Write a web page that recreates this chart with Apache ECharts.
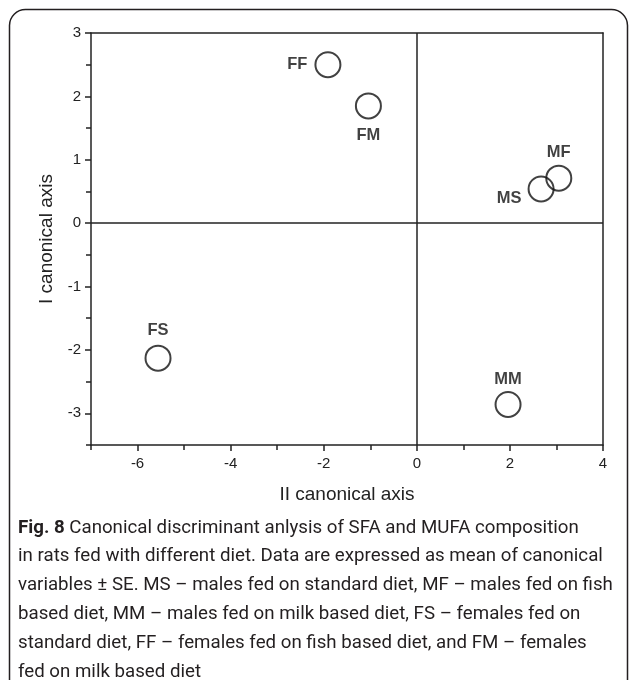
<!DOCTYPE html>
<html>
<head>
<meta charset="utf-8">
<script src="https://cdn.jsdelivr.net/npm/echarts@6/dist/echarts.min.js"></script>
<style>
html,body{margin:0;padding:0;background:#fff;}
#chart{width:630px;height:680px;}
</style>
</head>
<body>
<div id="chart"></div>
<script>
// ---- data ----
const groups = ['MS', 'MF', 'MM', 'FS', 'FF', 'FM'];
const axisII = [2.67, 3.05, 1.96, -5.56, -1.91, -1.04];   // x: II canonical axis
const axisI  = [0.54, 0.71, -2.86, -2.13, 2.50, 1.85];    // y: I canonical axis
const xTickLabels = [-6, -4, -2, 0, 2, 4];
const xMinorTicks = [-7, -5, -3, -1, 1, 3];
const yTickLabels = [-3, -2, -1, 0, 1, 2, 3];
const yMinorTicks = [-3.5, -2.5, -1.5, -0.5, 0.5, 1.5, 2.5];
const xTitle = 'II canonical axis';
const yTitle = 'I canonical axis';
const captionLines = [
  '{b|Fig. 8} Canonical discriminant anlysis of SFA and MUFA composition',
  'in rats fed with different diet. Data are expressed as mean of canonical',
  'variables \u00b1 SE. MS \u2013 males fed on standard diet, MF \u2013 males fed on fish',
  'based diet, MM \u2013 males fed on milk based diet, FS \u2013 females fed on',
  'standard diet, FF \u2013 females fed on fish based diet, and FM \u2013 females',
  'fed on milk based diet'
];

// ---- styles ----
const axisColor = '#222';
const tickFont = 'Liberation Sans';
const labelStyle = {
  MS: {position: 'left', distance: 6, offset: [0, 10]},
  MF: {position: 'top', distance: 4},
  MM: {position: 'top', distance: 3},
  FS: {position: 'top', distance: 6},
  FF: {position: 'left', distance: 7},
  FM: {position: 'bottom', distance: 8}
};

const chart = echarts.init(document.getElementById('chart'), null, {renderer: 'canvas'});

const XMIN = -7, XMAX = 4, YMIN = -3.5, YMAX = 3;
const lineSt = {color: axisColor, width: 1.5};

function baseAxis(min, max) {
  return {type: 'value', min: min, max: max, splitLine: {show: false},
          axisLine: {show: false, onZero: false, lineStyle: lineSt},
          axisTick: {show: false}, axisLabel: {show: false}};
}

const xAxes = [
  Object.assign(baseAxis(XMIN, XMAX), {
    position: 'bottom',
    axisLine: {show: true, onZero: false, lineStyle: lineSt},
    axisTick: {show: true, customValues: xTickLabels, length: 6, lineStyle: lineSt},
    axisLabel: {show: true, customValues: xTickLabels, margin: 11, fontSize: 15, color: axisColor, fontFamily: tickFont},
    name: xTitle, nameLocation: 'middle', nameGap: 40,
    nameTextStyle: {fontSize: 19, color: axisColor, fontFamily: tickFont}
  }),
  Object.assign(baseAxis(XMIN, XMAX), {
    position: 'bottom',
    axisTick: {show: true, customValues: xMinorTicks, length: 5, lineStyle: lineSt}
  }),
  Object.assign(baseAxis(XMIN, XMAX), {
    position: 'top',
    axisLine: {show: true, onZero: false, lineStyle: lineSt}
  })
];
const yAxes = [
  Object.assign(baseAxis(YMIN, YMAX), {
    position: 'left',
    axisLine: {show: true, onZero: false, lineStyle: lineSt},
    axisTick: {show: true, customValues: yTickLabels, length: 6, lineStyle: lineSt},
    axisLabel: {show: true, customValues: yTickLabels, margin: 10, fontSize: 15, color: axisColor, fontFamily: tickFont},
    name: yTitle, nameLocation: 'middle', nameGap: 35,
    nameTextStyle: {fontSize: 19, color: axisColor, fontFamily: tickFont}
  }),
  Object.assign(baseAxis(YMIN, YMAX), {
    position: 'left',
    axisTick: {show: true, customValues: yMinorTicks, length: 5, lineStyle: lineSt}
  }),
  Object.assign(baseAxis(YMIN, YMAX), {
    position: 'right',
    axisLine: {show: true, onZero: false, lineStyle: lineSt}
  })
];

const points = groups.map((g, i) => ({
  name: g,
  value: [axisII[i], axisI[i]],
  label: Object.assign({show: true, formatter: g}, labelStyle[g])
}));

const graphics = [
  {type: 'rect', silent: true, z: -10,
   shape: {x: 9.5, y: 9.5, width: 618, height: 740, r: 16},
   style: {fill: 'none', stroke: '#231f20', lineWidth: 1.5}}
];
captionLines.forEach((t, i) => {
  graphics.push({
    type: 'text', silent: true, x: 18, y: 528 + i * 28.8,
    style: {
      text: t, fontSize: 18.7, fontFamily: 'Roboto', fill: '#231f20',
      verticalAlign: 'middle', align: 'left',
      rich: {b: {fontSize: 18.7, fontFamily: 'Roboto', fontWeight: 'bold', fill: '#231f20'}}
    }
  });
});

chart.setOption({
  animation: false,
  backgroundColor: '#fff',
  grid: {left: 91, right: 27, top: 33, bottom: 235, containLabel: false},
  xAxis: xAxes,
  yAxis: yAxes,
  graphic: graphics,
  series: [{
    type: 'scatter',
    xAxisIndex: 0, yAxisIndex: 0,
    symbol: 'circle', symbolSize: 25,
    itemStyle: {color: 'rgba(0,0,0,0)', borderColor: '#111', borderWidth: 2},
    label: {fontSize: 16.5, fontWeight: 'bold', color: '#111', fontFamily: tickFont},
    data: points,
    z: 5,
    markLine: {
      silent: true, symbol: 'none', animation: false,
      label: {show: false},
      lineStyle: {color: '#222', width: 1.5, type: 'solid'},
      emphasis: {disabled: true},
      data: [{xAxis: 0}, {yAxis: 0}]
    }
  }]
});
</script>
</body>
</html>
